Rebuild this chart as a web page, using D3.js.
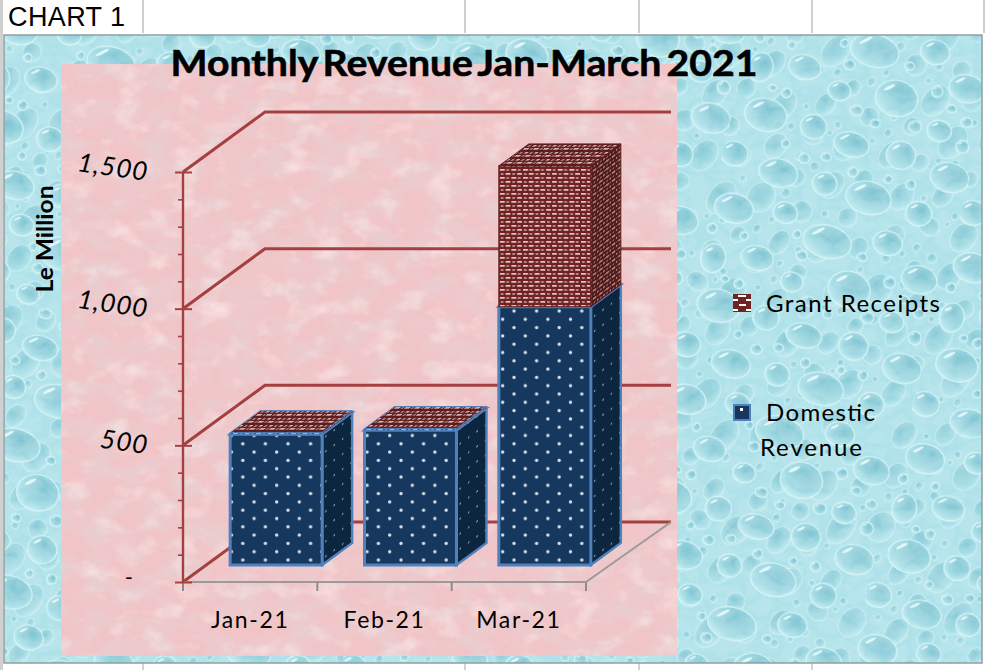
<!DOCTYPE html>
<html>
<head>
<meta charset="utf-8">
<script src="https://d3js.org/d3.v7.min.js"></script>
<style>
html, body { margin: 0; padding: 0; background: #fff; overflow: hidden; }
svg { display: block; }
text { fill: #000; }
</style>
</head>
<body>
<div id="chart"></div>
<script>
const months = ["Jan-21", "Feb-21", "Mar-21"];
const seriesNames = ["Domestic Revenue", "Grant Receipts"];
const domesticRevenue = [478, 493, 945];
const grantReceipts = [6, 6, 515];
const yLabels = [500, 1000, 1500];

const svg = d3.select("#chart").append("svg").attr("width", 985).attr("height", 670);
const defs = svg.append("defs");

// bubbly water tile, hand placed
const dropletTile = [
    [30, 30, 24, 18], [92, 20, 15, 13], [150, 42, 30, 20], [222, 26, 18, 15], [270, 60, 22, 17],
    [20, 95, 15, 18], [72, 82, 20, 15], [120, 100, 14, 12], [190, 92, 26, 22], [250, 118, 15, 13],
    [40, 150, 26, 20], [100, 150, 16, 15], [150, 160, 22, 15], [212, 158, 18, 17], [276, 170, 24, 18],
    [14, 205, 17, 15], [72, 215, 24, 17], [130, 214, 15, 14], [186, 218, 28, 20], [250, 222, 16, 15],
    [58, 118, 6, 6], [124, 66, 7, 6], [172, 128, 6, 5], [236, 72, 7, 7], [10, 60, 6, 6],
    [98, 190, 7, 6], [160, 192, 6, 6], [232, 190, 6, 6], [280, 100, 7, 6], [50, 60, 5, 5],
    [112, 42, 5, 5], [196, 50, 6, 5], [146, 118, 8, 6], [220, 120, 8, 7], [72, 178, 5, 5],
    [124, 182, 6, 5], [40, 116, 5, 4], [258, 88, 6, 5], [282, 130, 8, 8], [204, 190, 5, 5]
];

const dropGrad = defs.append("radialGradient").attr("id", "drop")
    .attr("cx", "60%").attr("cy", "32%").attr("r", "75%");
dropGrad.append("stop").attr("offset", "0%").attr("stop-color", "#7fc4d2");
dropGrad.append("stop").attr("offset", "65%").attr("stop-color", "#a2dae3");
dropGrad.append("stop").attr("offset", "100%").attr("stop-color", "#c4eef3");

defs.append("filter").attr("id", "soft").append("feGaussianBlur").attr("stdDeviation", 0.9);
defs.append("filter").attr("id", "haze").append("feGaussianBlur").attr("stdDeviation", 0.5);

const waterTile = defs.append("pattern").attr("id", "water")
    .attr("patternUnits", "userSpaceOnUse").attr("width", 300).attr("height", 240)
    .attr("patternTransform", "scale(0.82) rotate(14)");
const tileDrops = waterTile.append("g").attr("filter", "url(#soft)");
tileDrops.selectAll("ellipse.body").data(dropletTile).enter().append("ellipse")
    .attr("class", "body")
    .attr("cx", d => d[0]).attr("cy", d => d[1]).attr("rx", d => d[2]).attr("ry", d => d[3])
    .attr("fill", "url(#drop)").attr("stroke", "#d6f6f8").attr("stroke-width", 1.4);
tileDrops.selectAll("ellipse.shine").data(dropletTile).enter().append("ellipse")
    .attr("class", "shine")
    .attr("cx", 0).attr("cy", 0)
    .attr("rx", d => d[2] * 0.3).attr("ry", d => d[3] * 0.09)
    .attr("transform", d => `translate(${d[0] - d[2] * 0.45},${d[1] - d[3] * 0.5}) rotate(-40)`)
    .attr("fill", "#e4f9fb");

const waterTileB = defs.append("pattern").attr("id", "waterB")
    .attr("patternUnits", "userSpaceOnUse").attr("width", 300).attr("height", 240)
    .attr("patternTransform", "translate(60,35) scale(0.62) rotate(-52)");
waterTileB.append("g").attr("filter", "url(#soft)")
    .selectAll("ellipse").data(dropletTile).enter().append("ellipse")
    .attr("cx", d => d[0]).attr("cy", d => d[1]).attr("rx", d => d[2]).attr("ry", d => d[3])
    .attr("fill", "url(#drop)").attr("stroke", "#d6f6f8").attr("stroke-width", 1.4);

// cloudy variation on top of the water
const cloud = defs.append("filter").attr("id", "cloud")
    .attr("x", 0).attr("y", 0).attr("width", "100%").attr("height", "100%");
cloud.append("feTurbulence").attr("type", "turbulence").attr("baseFrequency", "0.045 0.055")
    .attr("numOctaves", 3).attr("seed", 11);
cloud.append("feColorMatrix").attr("type", "matrix")
    .attr("values", "0 0 0 0 0.86  0 0 0 0 0.97  0 0 0 0 0.98  3.2 0 0 0 -0.35");

// mottled pink paper
const paper = defs.append("filter").attr("id", "paper")
    .attr("x", 0).attr("y", 0).attr("width", "100%").attr("height", "100%");
paper.append("feTurbulence").attr("type", "fractalNoise").attr("baseFrequency", "0.035 0.05")
    .attr("numOctaves", 5).attr("seed", 7).attr("result", "n");
paper.append("feColorMatrix").attr("in", "n").attr("type", "matrix")
    .attr("values", "0 0 0 0 0.80  0 0 0 0 0.62  0 0 0 0 0.64  2.2 0 0 0 -0.85").attr("result", "spots");
paper.append("feColorMatrix").attr("in", "n").attr("type", "matrix")
    .attr("values", "0 0 0 0 0.97  0 0 0 0 0.83  0 0 0 0 0.83  0 -1.6 0 0 0.78").attr("result", "lights");
paper.append("feMerge").call(m => {
    m.append("feMergeNode").attr("in", "SourceGraphic");
    m.append("feMergeNode").attr("in", "spots");
    m.append("feMergeNode").attr("in", "lights");
});

// bar fills
function makePattern(id, w, h, bg, draw, transform) {
    const p = defs.append("pattern").attr("id", id).attr("patternUnits", "userSpaceOnUse")
        .attr("width", w).attr("height", h);
    if (transform) p.attr("patternTransform", transform);
    p.append("rect").attr("width", w).attr("height", h).attr("fill", bg);
    draw(p);
}
const dots = (fill, r) => p => {
    p.append("circle").attr("cx", 5.5).attr("cy", 4).attr("r", r).attr("fill", fill);
    p.append("circle").attr("cx", 16.8).attr("cy", 12.3).attr("r", r).attr("fill", fill);
};
const weave = (fill, c) => p => {
    p.append("rect").attr("x", 1).attr("y", 1.2).attr("width", 5).attr("height", 1.4).attr("fill", fill);
    p.append("rect").attr("x", 6.8).attr("y", 5.2).attr("width", 5).attr("height", 1.4).attr("fill", fill);
    p.append("rect").attr("x", 7.6).attr("y", 1).attr("width", 2.6).attr("height", 2).attr("fill", c);
    p.append("rect").attr("x", 2).attr("y", 5).attr("width", 2.6).attr("height", 2).attr("fill", c);
};
makePattern("domFront", 22.6, 16.6, "#17375e", dots("#dbe1e7", 1.7));
makePattern("domSide", 12, 15, "#0f2641", dots("#b5bec6", 0.9), "translate(322,0) skewY(-36) scale(0.7,1)");
makePattern("grantFront", 11.6, 8, "#6f2323", weave("#fbeeee", "#b58a8a"));
makePattern("grantSide", 9, 8, "#4f1717", weave("#cdb1b1", "#8a5a5a"), "skewY(-36) scale(0.7,1)");
makePattern("grantTop", 10, 7, "#611d1d", weave("#e0caca", "#a27b7b"), "skewX(-50)");

// frame and sheet grid
const sheet = svg.append("g");
sheet.append("rect").attr("x", 0).attr("y", 0).attr("width", 3).attr("height", 670).attr("fill", "#d0d0d0");
sheet.selectAll("line.cell").data([143, 465, 639, 812, 984]).enter().append("line")
    .attr("class", "cell")
    .attr("x1", d => d).attr("x2", d => d).attr("y1", 0).attr("y2", 33)
    .attr("stroke", "#cfcfcf").attr("stroke-width", 2);
sheet.selectAll("line.cellBottom").data([143, 465, 639, 812]).enter().append("line")
    .attr("class", "cellBottom")
    .attr("x1", d => d).attr("x2", d => d).attr("y1", 663).attr("y2", 670)
    .attr("stroke", "#d4d4d4").attr("stroke-width", 2);
sheet.append("text").attr("x", 8).attr("y", 26)
    .style("font-family", "'Liberation Sans', Arial, sans-serif").style("font-size", "27px").style("letter-spacing", "0.4px")
    .text("CHART 1");

sheet.append("rect").attr("x", 4).attr("y", 35).attr("width", 978).attr("height", 628).attr("fill", "#aee1e9");
sheet.append("rect").attr("x", 4).attr("y", 35).attr("width", 978).attr("height", 628).attr("fill", "url(#waterB)").attr("opacity", 0.8);
sheet.append("rect").attr("x", 4).attr("y", 35).attr("width", 978).attr("height", 628).attr("fill", "url(#water)");
sheet.append("rect").attr("x", 4).attr("y", 35).attr("width", 978).attr("height", 628).attr("filter", "url(#cloud)").attr("opacity", 0.16);
sheet.append("rect").attr("x", 4).attr("y", 35).attr("width", 978).attr("height", 628)
    .attr("fill", "none").attr("stroke", "#8f9ea2").attr("stroke-width", 1.5);
sheet.append("rect").attr("x", 61).attr("y", 64).attr("width", 616).attr("height", 592)
    .attr("fill", "#f1c5c7").attr("filter", "url(#paper)");

// chart
const depthX = 82, depthY = 60, barW = 92, barDx = 30, barDy = 22, gapX = 26, gapY = 17;
const wallEnd = 671;

const x = d3.scaleBand().domain(months).range([183, 586]);
const y = d3.scaleLinear().domain([0, 1500]).range([582, 172]);

const g = svg.append("g");
const marks = g.append("g").attr("filter", "url(#haze)");
const wallColor = "#a4403f";

// back wall lines with the diagonal from the axis
marks.selectAll("path.grid").data([0, 500, 1000, 1500]).enter().append("path")
    .attr("class", "grid")
    .attr("d", d => d3.line()([[x.range()[0], y(d)], [x.range()[0] + depthX, y(d) - depthY], [wallEnd, y(d) - depthY]]))
    .attr("fill", "none").attr("stroke", wallColor).attr("stroke-width", 3);

// floor
marks.append("path")
    .attr("d", d3.line()([[x.range()[1], y(0)], [x.range()[1] + depthX + 3, y(0) - depthY]]))
    .attr("stroke", "#9a9a9a").attr("stroke-width", 2).attr("fill", "none");

const xAxis = marks.append("g").attr("transform", `translate(0,${y(0)})`)
    .call(d3.axisBottom(x).tickSize(6).tickFormat(""));
xAxis.selectAll("line").remove();
xAxis.select(".domain").attr("stroke", "#9a9a9a").attr("stroke-width", 2).attr("d", `M${x.range()[0]},0H${x.range()[1]}`);
xAxis.selectAll("line.edge").data(months.concat("end")).enter().append("line")
    .attr("class", "edge")
    .attr("x1", d => d === "end" ? x.range()[1] : x(d)).attr("x2", d => d === "end" ? x.range()[1] : x(d))
    .attr("y1", 0).attr("y2", 9)
    .attr("stroke", "#8c8c8c").attr("stroke-width", 2);

const yAxis = marks.append("g").attr("transform", `translate(${x.range()[0]},0)`)
    .call(d3.axisLeft(y).tickValues(d3.range(0, 1501, 100)).tickSize(5).tickFormat(""));
yAxis.select(".domain").attr("stroke", wallColor).attr("stroke-width", 2.4).attr("d", `M0,${y(0)}V${y(1500)}`);
yAxis.selectAll("line").attr("stroke", wallColor).attr("stroke-width", 1.6);
yAxis.selectAll("g.tick").filter(d => d % 500 === 0).select("line")
    .attr("x1", 9).attr("x2", -8).attr("stroke-width", 2);

// bars
const stackData = months.map((m, i) => ({month: m, [seriesNames[0]]: domesticRevenue[i], [seriesNames[1]]: grantReceipts[i]}));
const layers = d3.stack().keys(seriesNames)(stackData);
const fills = [
    {front: "url(#domFront)", side: "url(#domSide)", top: "#17375e", stroke: "#4f81bd"},
    {front: "url(#grantFront)", side: "url(#grantSide)", top: "url(#grantTop)", stroke: "#611d1d"}
];
const poly = pts => d3.line()(pts) + "Z";

layers.forEach(function(layer, s) {
    const f = fills[s];
    const bars = marks.append("g").selectAll("g").data(layer).enter().append("g");
    const left = d => x(d.data.month) + (x.bandwidth() - barW) / 2 + gapX;
    const y0 = d => y(d[0]) - gapY;
    const y1 = d => y(d[1]) - gapY;
    // thin grant slices only show the blue edge of the bar below
    const edge = d => (s === 1 && y0(d) - y1(d) < 6) ? fills[0].stroke : f.stroke;

    bars.append("path")
        .attr("d", d => poly([[left(d) + barW, y0(d)], [left(d) + barW + barDx, y0(d) - barDy], [left(d) + barW + barDx, y1(d) - barDy], [left(d) + barW, y1(d)]]))
        .attr("fill", f.side).attr("stroke", edge).attr("stroke-width", s === 0 ? 2.4 : 1);
    bars.append("path")
        .attr("d", d => poly([[left(d), y1(d)], [left(d) + barW, y1(d)], [left(d) + barW + barDx, y1(d) - barDy], [left(d) + barDx, y1(d) - barDy]]))
        .attr("fill", f.top).attr("stroke", edge).attr("stroke-width", s === 0 ? 2.4 : 1);
    bars.append("rect")
        .attr("x", left).attr("y", y1).attr("width", barW).attr("height", d => y0(d) - y1(d))
        .attr("fill", f.front).attr("stroke", edge).attr("stroke-width", s === 0 ? 3 : 1);
});

const labelFont = "Lato, 'Open Sans', sans-serif";

// month labels
g.selectAll("text.month").data(months).enter().append("text")
    .attr("class", "month")
    .attr("x", d => x(d) + x.bandwidth() / 2).attr("y", 628)
    .attr("text-anchor", "middle")
    .style("font-family", labelFont).style("font-size", "23px").style("letter-spacing", "1.6px")
    .text(d => d);

// tilted value labels
g.selectAll("text.val").data(yLabels).enter().append("text")
    .attr("class", "val")
    .attr("transform", d => `translate(147,${y(d) + 9}) rotate(8)`)
    .attr("text-anchor", "end")
    .style("font-family", labelFont).style("font-size", "26px").style("font-style", "italic").style("letter-spacing", "1px")
    .text(d => d3.format(",")(d));
g.append("text").attr("x", 133).attr("y", 585).attr("text-anchor", "end")
    .style("font-family", labelFont).style("font-size", "22px").text("-");

// axis title and heading
g.append("text").attr("transform", "translate(53,239) rotate(-90)").attr("text-anchor", "middle")
    .attr("textLength", 107).attr("lengthAdjust", "spacingAndGlyphs")
    .style("font-family", labelFont).style("font-size", "22px").style("font-weight", "700")
    .text("Le Million");
g.append("text").attr("x", 464).attr("y", 76).attr("text-anchor", "middle")
    .attr("textLength", 587).attr("lengthAdjust", "spacingAndGlyphs")
    .attr("stroke", "#000").attr("stroke-width", 0.6)
    .style("font-family", labelFont).style("font-size", "37px").style("font-weight", "700").style("word-spacing", "-4px")
    .text("Monthly Revenue Jan-March 2021");

// legend
const legend = svg.append("g");
legend.append("rect").attr("x", 733).attr("y", 294).attr("width", 18).attr("height", 18).attr("fill", "#6f2323");
legend.selectAll("rect.dash").data([[733, 299, 5], [746, 299, 5], [738, 295, 8], [733, 309, 5], [746, 309, 5], [739, 304, 7]]).enter().append("rect")
    .attr("class", "dash")
    .attr("x", d => d[0]).attr("y", d => d[1]).attr("width", d => d[2]).attr("height", 2).attr("fill", "#fff");
legend.append("rect").attr("x", 734).attr("y", 405).attr("width", 16).attr("height", 15)
    .attr("fill", "#17375e").attr("stroke", "#4f81bd").attr("stroke-width", 2);
legend.append("rect").attr("x", 740).attr("y", 408).attr("width", 3).attr("height", 3).attr("fill", "#fff");

const legendText = (px, py, t, len) => legend.append("text").attr("x", px).attr("y", py)
    .attr("textLength", len).attr("lengthAdjust", "spacing")
    .style("font-family", labelFont).style("font-size", "24px").text(t);
legendText(766, 312, "Grant Receipts", 174);
legendText(766, 421, "Domestic", 109);
legendText(760, 456, "Revenue", 102);
</script>
</body>
</html>
